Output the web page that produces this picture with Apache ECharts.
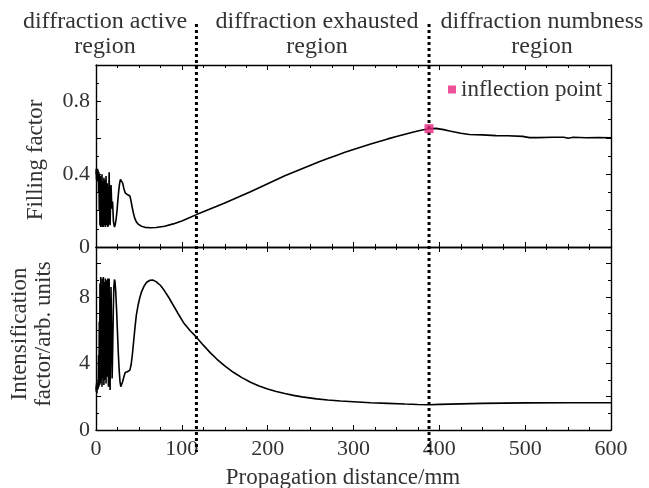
<!DOCTYPE html>
<html><head><meta charset="utf-8">
<script src="https://cdn.jsdelivr.net/npm/echarts@6/dist/echarts.min.js"></script>
<style>html,body{margin:0;padding:0;background:#fff}#c{width:649px;height:488px}</style>
</head><body><div id="c"></div>
<script>
// ---- data ----
const fillX = [0,0.3,0.6,1,1.4,1.8,2.2,2.6,3,3.4,3.8,4.2,4.6,5,5.5,6,6.5,7,7.5,8,8.6,9.2,9.8,10.4,11,11.7,12.4,13.1,13.8,14.5,15.3,16.4,17.5,18.5,19.3,20.3,21.5,22.5,23.5,24.5,25.5,26.5,27.5,28.5,29.3,30.2,31.2,32.5,34,35.5,37,38.3,39.5,40.5,41.5,42.5,43.5,45,47,49.5,53,57,63,70,80,90,100,110,117,130,140,150,160,170,180,190,200,210,220,230,240,250,260,270,280,290,300,310,320,330,340,350,360,370,380,388,396,405,412,425,435,450,466,480,497,505,515,532,545,550,556,571,585,600];
const fillY = [0.40,0.43,0.37,0.42,0.38,0.43,0.36,0.42,0.30,0.41,0.20,0.40,0.12,0.39,0.11,0.37,0.12,0.40,0.11,0.36,0.11,0.38,0.12,0.37,0.11,0.39,0.12,0.35,0.11,0.13,0.41,0.12,0.34,0.21,0.25,0.14,0.11,0.125,0.155,0.20,0.26,0.31,0.35,0.372,0.378,0.372,0.35,0.32,0.298,0.288,0.287,0.29,0.28,0.26,0.235,0.21,0.188,0.16,0.138,0.124,0.114,0.108,0.106,0.107,0.114,0.127,0.143,0.163,0.178,0.203,0.222,0.242,0.262,0.283,0.304,0.326,0.348,0.370,0.391,0.411,0.430,0.449,0.468,0.486,0.503,0.520,0.536,0.551,0.566,0.580,0.594,0.607,0.620,0.632,0.643,0.650,0.652,0.645,0.637,0.625,0.618,0.616,0.612,0.611,0.608,0.601,0.601,0.603,0.603,0.598,0.603,0.600,0.602,0.600];
const intX = [0,0.3,0.6,1,1.4,1.8,2.2,2.6,3,3.4,3.8,4.2,4.6,5,5.5,6,6.5,7,7.5,8,8.6,9.2,9.8,10.4,11,11.7,12.4,13.1,13.8,14.5,15.3,16.4,17.5,18.8,19.5,20.2,20.8,21.5,22.2,23,24,25,26,27,28,28.9,29.8,31,32.5,34,35.5,36.5,37.5,38.5,39.5,41,42.5,44,45.5,47,49,51,53,56,59,63,66,70,75,80,85,90,95,102,110,117,125,133,141,150,160,170,180,190,200,210,220,230,240,257,270,285,300,320,340,360,375,388,400,425,450,500,550,600];
const intY = [2.6,2.3,2.8,2.2,2.7,2.4,2.9,2.5,4.5,2.6,6.5,2.7,8.8,2.8,9.2,3.0,8.6,2.6,9.1,3.1,9.2,2.7,8.9,3.0,9.1,2.8,9.0,3.2,9.1,2.6,9.1,2.4,8.6,3.1,5.0,7.3,8.6,9.05,8.9,8.3,7.2,5.9,4.6,3.6,2.9,2.6,2.65,2.9,3.2,3.45,3.55,3.5,3.45,3.5,3.6,3.95,4.6,5.4,6.2,6.9,7.5,7.95,8.3,8.65,8.88,9.0,9.02,8.92,8.7,8.35,7.95,7.5,7.05,6.45,5.95,5.58,5.1,4.65,4.25,3.85,3.47,3.15,2.87,2.65,2.47,2.32,2.19,2.08,1.99,1.87,1.8,1.74,1.7,1.64,1.6,1.56,1.535,1.52,1.54,1.57,1.6,1.63,1.64,1.64];
const regionBounds = [117, 388];
const inflectionPoint = [388, 0.65];
const regionLabels = ['diffraction active\nregion', 'diffraction exhausted\nregion', 'diffraction numbness\nregion'];
const fillTickLabels = [0, 0.4, 0.8];
const intTickLabels = [0, 4, 8];

const FONT = 'Liberation Serif';
const TXT = '#333';
const chart = echarts.init(document.getElementById('c'), null, {renderer:'canvas'});

function xAx(grid, pos, showLabel) {
  return {
    type:'value', gridIndex:grid, position:pos, min:0, max:600, interval:100,
    axisLine:{show:true, onZero:false, lineStyle:{color:'#000', width:1.4}},
    axisTick:{show:true, inside:true, length:5, lineStyle:{color:'#000', width:1}},
    minorTick:{show:true, splitNumber:4, length:3, lineStyle:{color:'#000', width:1}},
    splitLine:{show:false},
    axisLabel:{show:showLabel, margin:8, color:TXT, fontFamily:FONT, fontSize:22}
  };
}
function yAx(grid, pos, showLabel, max, interval, labels) {
  return {
    type:'value', gridIndex:grid, position:pos, min:0, max:max, interval:interval,
    axisLine:{show:true, onZero:false, lineStyle:{color:'#000', width:1.4}},
    axisTick:{show:true, inside:true, length:5, lineStyle:{color:'#000', width:1}},
    minorTick:{show:true, splitNumber:2, length:3, lineStyle:{color:'#000', width:1}},
    splitLine:{show:false},
    axisLabel:{show:showLabel, margin:6, color:TXT, fontFamily:FONT, fontSize:22,
      showMaxLabel:false,
      formatter: v => labels.some(l => Math.abs(l - v) < 1e-6) ? String(+v.toFixed(2)) : ''}
  };
}

const option = {
  animation:false,
  backgroundColor:'#fff',
  grid:[
    {left:96, top:65, width:515, height:182},
    {left:96, top:247, width:515, height:183}
  ],
  xAxis:[ xAx(0,'bottom',false), xAx(0,'top',false), xAx(1,'bottom',true), xAx(1,'top',false) ],
  yAxis:[ yAx(0,'left',true,1,0.2,fillTickLabels), yAx(0,'right',false,1,0.2,fillTickLabels),
          yAx(1,'left',true,11,2,intTickLabels), yAx(1,'right',false,11,2,intTickLabels) ],
  legend:{
    data:['inflection point'], left:443, top:73, icon:'rect', itemWidth:8, itemHeight:8, itemGap:5,
    textStyle:{fontFamily:FONT, fontSize:23, color:TXT, padding:[0,0,0,0]}
  },
  series:[
    {type:'line', name:'Filling factor', xAxisIndex:0, yAxisIndex:0, showSymbol:false, symbol:'none',
     data: fillX.map((x,i)=>[x, fillY[i]]), lineStyle:{color:'#000', width:1.6}, z:3},
    {type:'line', name:'Intensification', xAxisIndex:2, yAxisIndex:2, showSymbol:false, symbol:'none',
     data: intX.map((x,i)=>[x, intY[i]]), lineStyle:{color:'#000', width:1.6}, z:3},
    {type:'scatter', name:'inflection point', xAxisIndex:0, yAxisIndex:0, symbol:'rect', symbolSize:9,
     itemStyle:{color:'#e9267f'}, data:[inflectionPoint], z:10}
  ]
};
chart.setOption(option);

const graphics = [];
const yTop = 24, yBot = 452;
const xs = regionBounds.map(b => chart.convertToPixel({xAxisIndex:0}, b));
xs.forEach(px => {
  graphics.push({type:'line', z:5, shape:{x1:px, y1:yTop, x2:px, y2:yBot},
    style:{stroke:'#000', lineWidth:3, lineDash:[3,3]}});
});
const centers = [105, 317, 542];
regionLabels.forEach((t, i) => {
  graphics.push({type:'text', x:centers[i], y:9, style:{text:t, fontFamily:FONT, fontSize:24,
    fill:TXT, textAlign:'center', textVerticalAlign:'top', lineHeight:25}});
});
graphics.push({type:'text', x:36, y:160, rotation:Math.PI/2,
  style:{text:'Filling factor', fontFamily:FONT, fontSize:23, fill:TXT, textAlign:'center', textVerticalAlign:'middle'}});
graphics.push({type:'text', x:32, y:334, rotation:Math.PI/2,
  style:{text:'Intensification\nfactor/arb. units', fontFamily:FONT, fontSize:23, fill:TXT, textAlign:'center', textVerticalAlign:'middle', lineHeight:24}});
graphics.push({type:'text', x:343, y:478,
  style:{text:'Propagation distance/mm', fontFamily:FONT, fontSize:23, fill:TXT, textAlign:'center', textVerticalAlign:'middle'}});
chart.setOption({graphic:graphics});
</script>
</body></html>
